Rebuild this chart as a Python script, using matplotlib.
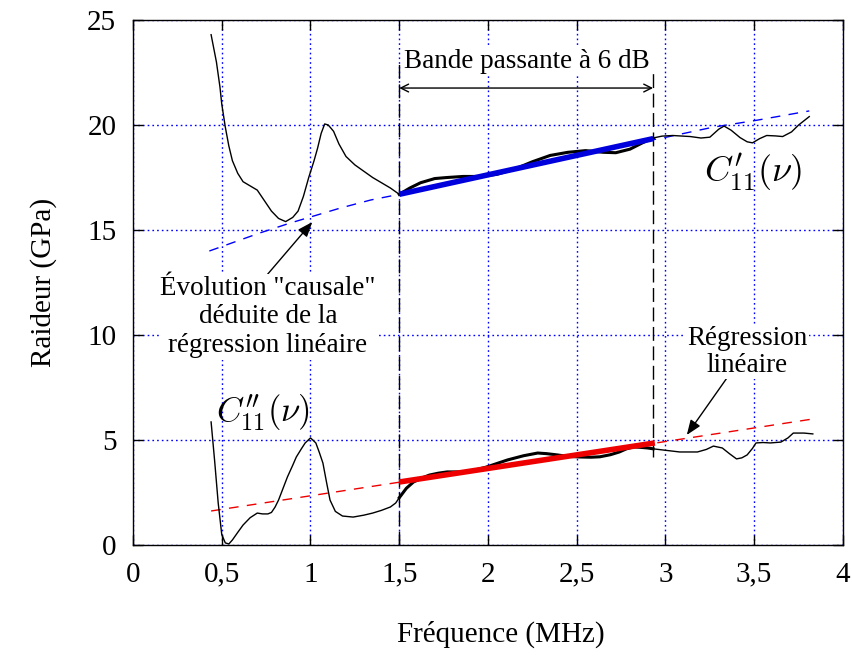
import matplotlib
matplotlib.use("Agg")
import matplotlib.pyplot as plt

plt.rcParams['font.family'] = ['Liberation Serif', 'DejaVu Serif']
plt.rcParams['mathtext.fontset'] = 'cm'

# ---- data ----
freq_c1 = [0.44, 0.47, 0.49, 0.50, 0.52, 0.54, 0.56, 0.59, 0.62, 0.66, 0.70, 0.74,
           0.78, 0.82, 0.86, 0.90, 0.93, 0.96, 0.99, 1.02, 1.04, 1.06, 1.08, 1.10,
           1.13, 1.16, 1.20, 1.25, 1.30, 1.35, 1.41, 1.45, 1.50, 1.56, 1.62, 1.70,
           1.77, 1.86, 1.95, 2.05, 2.15, 2.25, 2.35, 2.45, 2.55, 2.65, 2.72, 2.80,
           2.87, 2.93, 2.98, 3.04, 3.14, 3.20, 3.25, 3.30, 3.33, 3.37, 3.42, 3.46,
           3.49, 3.53, 3.57, 3.62, 3.66, 3.71, 3.75, 3.81]
c1_real = [24.3, 23.0, 21.8, 21.0, 19.9, 19.0, 18.3, 17.7, 17.3, 17.1, 16.9, 16.4,
           15.9, 15.55, 15.4, 15.6, 15.9, 16.6, 17.5, 18.3, 18.9, 19.6, 20.05, 20.0,
           19.7, 19.1, 18.5, 18.1, 17.8, 17.5, 17.2, 17.0, 16.7, 17.0, 17.25, 17.45,
           17.5, 17.55, 17.55, 17.65, 17.9, 18.25, 18.55, 18.7, 18.78, 18.7, 18.68, 18.85,
           19.15, 19.38, 19.47, 19.5, 19.45, 19.38, 19.42, 19.8, 19.95, 19.75, 19.4, 19.2,
           19.15, 19.35, 19.5, 19.48, 19.45, 19.67, 20.0, 20.4]

freq_c2 = [0.44, 0.46, 0.48, 0.50, 0.52, 0.54, 0.56, 0.59, 0.62, 0.66, 0.70, 0.73,
           0.76, 0.78, 0.80, 0.82, 0.85, 0.87, 0.90, 0.92, 0.95, 0.97, 1.00, 1.03,
           1.05, 1.07, 1.09, 1.11, 1.14, 1.18, 1.24, 1.30, 1.35, 1.40, 1.45, 1.48,
           1.50, 1.54, 1.58, 1.63, 1.67, 1.72, 1.77, 1.85, 1.90, 1.95, 1.99, 2.05,
           2.11, 2.20, 2.28, 2.33, 2.39, 2.45, 2.52, 2.58, 2.63, 2.69, 2.74, 2.78,
           2.82, 2.86, 2.90, 2.93, 2.99, 3.08, 3.18, 3.23, 3.27, 3.32, 3.36, 3.40,
           3.43, 3.46, 3.49, 3.51, 3.55, 3.59, 3.65, 3.69, 3.72, 3.78, 3.83]
c2_imag = [5.86, 4.0, 2.0, 0.5, 0.1, 0.05, 0.24, 0.6, 0.95, 1.3, 1.52, 1.48,
           1.48, 1.55, 1.8, 2.14, 2.8, 3.24, 3.8, 4.19, 4.6, 4.86, 5.1, 4.86,
           4.4, 3.9, 3.0, 2.14, 1.6, 1.38, 1.33, 1.42, 1.52, 1.65, 1.81, 2.0,
           2.25, 2.7, 3.0, 3.2, 3.33, 3.42, 3.48, 3.48, 3.5, 3.62, 3.71, 3.88,
           4.05, 4.25, 4.38, 4.35, 4.29, 4.22, 4.19, 4.18, 4.2, 4.3, 4.43, 4.58,
           4.67, 4.65, 4.62, 4.58, 4.52, 4.43, 4.43, 4.55, 4.71, 4.62, 4.35, 4.1,
           4.15, 4.29, 4.6, 4.86, 4.88, 4.86, 4.9, 5.1, 5.33, 5.33, 5.29]

band = [1.5, 2.93]                       # 6 dB bandwidth (MHz)

causal_f = [0.43, 0.715, 0.885, 1.00, 1.17, 1.34, 1.50, 2.20, 2.93, 3.01, 3.27, 3.51, 3.81]
causal_c = [14.0, 14.86, 15.33, 15.62, 16.05, 16.43, 16.7, 17.98, 19.3, 19.43, 19.9, 20.22, 20.67]

fit_real_f = [1.5, 2.93]
fit_real_c = [16.7, 19.35]

reg_f = [0.44, 3.83]
reg_c = [1.62, 6.0]
fit_imag_f = [1.5, 2.94]
fit_imag_c = [3.0, 4.86]

xticks = [0, 0.5, 1, 1.5, 2, 2.5, 3, 3.5, 4]
xticklabels = ['0', '0,5', '1', '1,5', '2', '2,5', '3', '3,5', '4']
yticks = [0, 5, 10, 15, 20, 25]

# ---- figure ----
fig = plt.figure(figsize=(8.53, 6.62), dpi=100)
ax = fig.add_axes([133/853, 1-545/662, 710/853, 525/662])
ax.set_xlim(0, 4)
ax.set_ylim(0, 25)

ax.grid(True, color='#0000ff', linestyle=(0, (1.2, 2.2)), linewidth=1.0)
ax.set_axisbelow(True)

ax.set_xticks(xticks)
ax.set_xticklabels(xticklabels)
ax.set_yticks(yticks)
ax.tick_params(direction='in', length=7, width=1, top=True, right=True,
               labelsize=21, pad=12)
for s in ax.spines.values():
    s.set_linewidth(1.0)

# dashed curves
ax.plot(causal_f, causal_c, color='#0000ff', lw=1.0, dashes=(7, 6), zorder=3)
ax.plot(reg_f, reg_c, color='#ee0000', lw=1.0, dashes=(7, 6), zorder=3)

# measured curves (thin)
ax.plot(freq_c1, c1_real, color='black', lw=1.0, zorder=4)
ax.plot(freq_c2, c2_imag, color='black', lw=1.0, zorder=4)

# thick inside band
def in_band(f, v):
    xs, ys = [], []
    for a, b in zip(f, v):
        if band[0] <= a <= band[1] + 1e-9:
            xs.append(a); ys.append(b)
    return xs, ys

bx, by = in_band(freq_c1, c1_real)
ax.plot(bx, by, color='black', lw=2.2, zorder=4)
bx, by = in_band(freq_c2, c2_imag)
ax.plot(bx, by, color='black', lw=2.2, zorder=4)

ax.plot(fit_real_f, fit_real_c, color='#0000dd', lw=4, zorder=5, solid_capstyle='butt')
ax.plot(fit_imag_f, fit_imag_c, color='#ee0000', lw=4, zorder=5, solid_capstyle='butt')

# band limits
ax.plot([band[0], band[0]], [0, 23.1], color='black', lw=1.0, dashes=(10, 4), zorder=2)
ax.plot([band[1], band[1]], [4.2, 22.6], color='black', lw=1.0, dashes=(10, 4), zorder=2)

ax.annotate('', xy=(band[0], 21.76), xytext=(band[1], 21.76),
            arrowprops=dict(arrowstyle='<->', color='black', lw=1.0,
                            mutation_scale=14, shrinkA=0, shrinkB=0), zorder=6)
ax.text(2.22, 23.0, 'Bande passante à 6 dB', ha='center', va='center', fontsize=19.5,
        bbox=dict(facecolor='white', edgecolor='none', pad=1), zorder=6)

# labels of curves
ax.text(3.49, 17.76, r"$C_{11}^{\prime}(\nu)$", ha='center', va='center', fontsize=26, zorder=6)
ax.text(0.73, 6.3, r"$C_{11}^{\prime\prime}(\nu)$", ha='center', va='center', fontsize=25, zorder=6)

# annotations
ax.annotate('', xy=(1.01, 15.38), xytext=(0.755, 12.86),
            arrowprops=dict(arrowstyle='-|>,head_length=0.9,head_width=0.35', color='black',
                            lw=1.0, shrinkA=0, shrinkB=0), zorder=6)
ax.text(0.76, 10.86, 'Évolution "causale"\ndéduite de la\nrégression linéaire',
        ha='center', va='center', fontsize=19.5, linespacing=1.2,
        bbox=dict(facecolor='white', edgecolor='none', pad=1), zorder=6)

ax.annotate('', xy=(3.12, 5.24), xytext=(3.35, 8.0),
            arrowprops=dict(arrowstyle='-|>,head_length=0.9,head_width=0.35', color='black',
                            lw=1.0, shrinkA=0, shrinkB=0), zorder=6)
ax.text(3.46, 9.2, 'Régression\nlinéaire', ha='center', va='center', fontsize=19.5,
        linespacing=1.08, bbox=dict(facecolor='white', edgecolor='none', pad=1), zorder=6)

ax.set_xlabel('Fréquence (MHz)', fontsize=21, labelpad=24, x=0.518)
ax.set_ylabel('Raideur (GPa)', fontsize=21, labelpad=22)

fig.savefig('out.png', dpi=100)
